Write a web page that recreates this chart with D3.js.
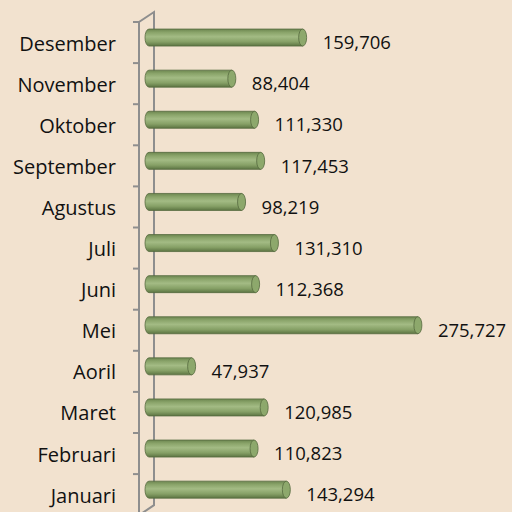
<!DOCTYPE html>
<html>
<head>
<meta charset="utf-8">
<script src="https://cdn.jsdelivr.net/npm/d3@7.9.0/dist/d3.min.js"></script>
<style>
  body { margin: 0; background: #f2e2cf; }
  svg { display: block; }
</style>
</head>
<body>
<div id="chart"></div>
<script>
const months = ["Januari", "Februari", "Maret", "Aoril", "Mei", "Juni",
                "Juli", "Agustus", "September", "Oktober", "November", "Desember"];
const totals = [143294, 110823, 120985, 47937, 275727, 112368,
                131310, 98219, 117453, 111330, 88404, 159706];

const width = 512, height = 512;
const depthX = 15, depthY = -10;   // 3d offset front -> back
const axisX = 139;

const svg = d3.select("#chart").append("svg")
    .attr("width", width)
    .attr("height", height);

svg.append("rect")
    .attr("width", width).attr("height", height)
    .attr("fill", "#f2e2cf");

// categories on the front plane, top to bottom Desember .. Januari
const yScale = d3.scaleBand()
    .domain(months.slice().reverse())
    .range([22, 22 + 12 * 41.1])
    .padding(0);

const xScale = d3.scaleLinear()
    .domain([0, 300000])
    .range([148, 446]);

const defs = svg.append("defs");
const grad = defs.append("linearGradient")
    .attr("id", "cyl")
    .attr("x1", 0).attr("y1", 0).attr("x2", 0).attr("y2", 1);
grad.append("stop").attr("offset", "0%").attr("stop-color", "#6d8750");
grad.append("stop").attr("offset", "20%").attr("stop-color", "#8aa46a");
grad.append("stop").attr("offset", "45%").attr("stop-color", "#a3bb84");
grad.append("stop").attr("offset", "75%").attr("stop-color", "#86a066");
grad.append("stop").attr("offset", "100%").attr("stop-color", "#5c7442");

// axis (front line, back line, joints)
const y0 = yScale.range()[0], y1 = yScale.range()[1];
const axisColor = "#8e8e8e";
const axis = svg.append("g")
    .attr("stroke", axisColor)
    .attr("stroke-width", 2)
    .attr("fill", "none");
axis.append("path")
    .attr("d", `M${axisX},${y1} L${axisX},${y0} L${axisX + depthX},${y0 + depthY} L${axisX + depthX},${y1 + depthY} L${axisX},${y1}`);

const ticks = d3.range(13).map(i => y0 + i * yScale.step());
axis.selectAll("line.tick")
    .data(ticks)
    .enter()
    .append("line")
    .attr("class", "tick")
    .attr("x1", axisX - 6)
    .attr("x2", axisX)
    .attr("y1", d => d)
    .attr("y2", d => d);

// bars as cylinders
const r = 8.5, capRx = 4;
const bars = svg.selectAll("g.bar")
    .data(months.map((m, i) => ({ month: m, value: totals[i] })))
    .enter()
    .append("g")
    .attr("class", "bar");

const cy = d => yScale(d.month) + yScale.bandwidth() / 2 + depthY / 2;

bars.append("path")
    .attr("d", d => {
        const xl = xScale(0) + 1, xr = xScale(d.value) - capRx, c = cy(d);
        return `M${xl},${c - r} L${xr},${c - r} L${xr},${c + r} L${xl},${c + r} ` +
               `A${capRx},${r} 0 0 1 ${xl},${c - r} Z`;
    })
    .attr("fill", "url(#cyl)")
    .attr("stroke", "#56693f")
    .attr("stroke-width", 0.8);

bars.append("ellipse")
    .attr("cx", d => xScale(d.value) - capRx)
    .attr("cy", cy)
    .attr("rx", capRx)
    .attr("ry", r)
    .attr("fill", "#8da86c")
    .attr("stroke", "#56693f")
    .attr("stroke-width", 0.8);

// value labels
bars.append("text")
    .attr("x", d => xScale(d.value) + 16)
    .attr("y", d => yScale(d.month) + yScale.bandwidth() / 2)
    .attr("dy", "0.36em")
    .attr("font-family", "Open Sans")
    .attr("font-size", 18.5)
    .attr("fill", "#111")
    .text(d => d3.format(",")(d.value));

// month labels
svg.selectAll("text.month")
    .data(months)
    .enter()
    .append("text")
    .attr("class", "month")
    .attr("x", 116)
    .attr("y", d => yScale(d) + yScale.bandwidth() / 2)
    .attr("dy", "0.4em")
    .attr("text-anchor", "end")
    .attr("font-family", "Open Sans")
    .attr("font-size", 20)
    .attr("fill", "#111")
    .text(d => d);
</script>
</body>
</html>
